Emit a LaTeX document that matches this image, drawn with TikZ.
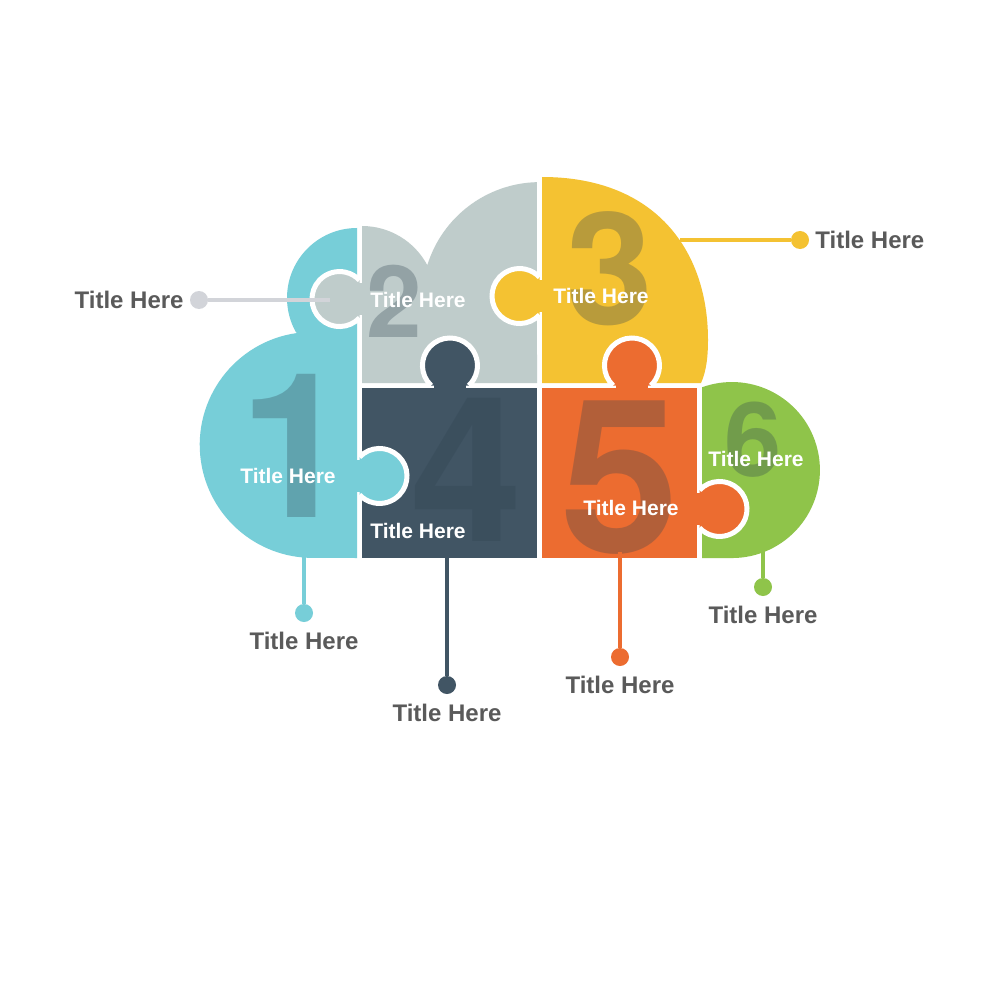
\documentclass[tikz,border=0pt]{standalone}
\usepackage{fontspec}
\setmainfont{Liberation Sans}
\newfontfamily\numfont{TeX Gyre Heros}
\usepackage{xcolor}
\usetikzlibrary{positioning}
\definecolor{teal1}{HTML}{77CED8}
\definecolor{gray2}{HTML}{BFCCCB}
\definecolor{yellow3}{HTML}{F4C232}
\definecolor{slate4}{HTML}{415564}
\definecolor{orange5}{HTML}{EC6C30}
\definecolor{green6}{HTML}{8FC44A}
\definecolor{leadgray}{HTML}{D2D4D9}
\definecolor{labelgray}{HTML}{5A5A5A}
\definecolor{shade}{HTML}{2E4250}
\tikzset{
  lead/.style={line width=4.5pt},
  dot/.style={circle,inner sep=0pt,minimum size=18pt},
  outlbl/.style={font=\fontsize{24}{24}\selectfont\bfseries,text=labelgray,inner sep=0pt},
  inlbl/.style={font=\fontsize{21}{21}\selectfont\bfseries,text=white,inner sep=0pt},
  bignum/.style={font=\numfont\fontsize{#1}{#1}\selectfont\bfseries,text=shade,text opacity=0.3,inner sep=0pt},
}
\newcommand{\knob}[3]{%
  \begin{scope}[shift={(#2)},rotate=#3]
    \fill[#1] (-3,-16) rectangle (1,16);
    \filldraw[fill=#1,draw=white,line width=5pt] (0,-18.9) arc[start angle=-136.7,end angle=136.7,radius=27.5];
  \end{scope}}

\begin{document}
\begin{tikzpicture}[x=1pt,y=-1pt]
\fill[white] (0,0) rectangle (1000,1000);
\useasboundingbox (0,0) rectangle (1000,1000);

\fill[teal1] (357,558) -- (357,228) arc[start angle=-90,end angle=-209,radius=70] -- (297,333) arc[start angle=-98,end angle=-270,radius=113] -- cycle;
\fill[gray2] (362,383) -- (362,226) arc[start angle=-90,end angle=-28.05,radius=74] arc[start angle=-162.8,end angle=-91.5,radius=118] -- (537,383) -- cycle;
\fill[yellow3] (542,383) -- (542,177) .. controls (655,177) and (708,250) .. (708,340) .. controls (708,362) and (705,374) .. (701,383) -- cycle;
\fill[slate4] (362,388) rectangle (537,558);
\fill[orange5] (542,388) rectangle (697,558);
\fill[green6] (702,387.3) arc[start angle=-109.9,end angle=90,radius=88] -- (702,558) -- cycle;

\knob{gray2}{359.5,299}{180}
\knob{teal1}{359.5,476}{0}
\knob{slate4}{450,385.5}{90}
\knob{yellow3}{539.5,296}{180}
\knob{orange5}{632,385.5}{90}
\knob{orange5}{699.5,509}{0}

\node[bignum=202] (n1) at (296,446) {1};
\node[bignum=100] (n2) at (394,301) {2};
\node[bignum=156] (n3) at (610,269) {3};
\node[bignum=202] (n4) at (467,470) {4};
\node[bignum=214] (n5) at (620,478) {5};
\node[bignum=103] (n6) at (753,440) {6};

\node[inlbl] (l1) at (288,476) {Title Here};
\node[inlbl] (l2) at (418,300) {Title Here};
\node[inlbl] (l3) at (601,296) {Title Here};
\node[inlbl] (l4) at (418,531) {Title Here};
\node[inlbl] (l5) at (631,508) {Title Here};
\node[inlbl] (l6) at (756,459) {Title Here};

\coordinate (s1) at (304,552);
\coordinate (s2) at (330,300);
\coordinate (s3) at (680,240);
\coordinate (s4) at (447,552);
\coordinate (s5) at (620,552);
\coordinate (s6) at (763,550);
\node[dot,fill=teal1] (d1) at (304,613) {};
\node[dot,fill=leadgray] (d2) at (199,300) {};
\node[dot,fill=yellow3] (d3) at (800,240) {};
\node[dot,fill=slate4] (d4) at (447,685) {};
\node[dot,fill=orange5] (d5) at (620,657) {};
\node[dot,fill=green6] (d6) at (763,587) {};
\draw[lead,teal1] (s1) -- (d1);
\draw[lead,leadgray] (s2) -- (d2);
\draw[lead,yellow3] (s3) -- (d3);
\draw[lead,slate4] (s4) -- (d4);
\draw[lead,orange5] (s5) -- (d5);
\draw[lead,green6] (s6) -- (d6);

\node[outlbl,below=10pt of d1] (t1) {Title Here};
\node[outlbl,left=6pt of d2] (t2) {Title Here};
\node[outlbl,right=6pt of d3] (t3) {Title Here};
\node[outlbl,below=10pt of d4] (t4) {Title Here};
\node[outlbl,below=10pt of d5] (t5) {Title Here};
\node[outlbl,below=10pt of d6] (t6) {Title Here};
\end{tikzpicture}
\end{document}
